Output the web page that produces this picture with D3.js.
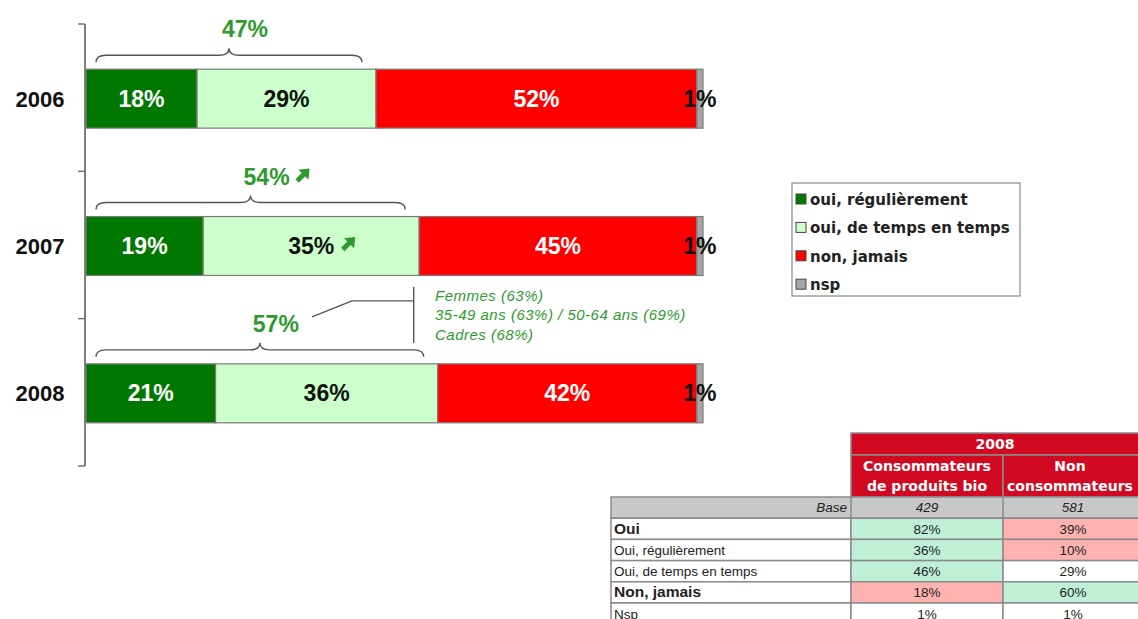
<!DOCTYPE html>
<html>
<head>
    <meta charset="utf-8">
    <script src="https://d3js.org/d3.v7.min.js"></script>
    <title>Consommation bio</title>
    <style>
        body { margin: 0; background: #fff; }
        svg { display: block; }
        .seg-label { font-family: "Liberation Sans", Arial, sans-serif; font-weight: bold; font-size: 23px; }
        .year { font-family: "Liberation Sans", Arial, sans-serif; font-weight: bold; font-size: 22px; }
        .legend text { font-family: "DejaVu Sans", Verdana, sans-serif; font-size: 15px; font-weight: bold; fill: #222; }
    </style>
</head>
<body>
    <svg id="chart" width="1138" height="619"></svg>
    <script>
        // data
        var years = ["2006", "2007", "2008"];
        var categories = ["oui, régulièrement", "oui, de temps en temps", "non, jamais", "nsp"];
        var regulierement = [18, 19, 21];
        var tempsEnTemps = [29, 35, 36];
        var jamais = [52, 45, 42];
        var nsp = [1, 1, 1];
        var ouiTotal = [47, 54, 57];
        var trendUp = [false, true, false];

        var notes = ["Femmes (63%)", "35-49 ans (63%) / 50-64 ans (69%)", "Cadres (68%)"];

        var tableCols = ["Consommateurs|de produits bio", "Non|consommateurs"];
        var tableBase = ["429", "581"];
        var tableRows = ["Oui", "Oui, régulièrement", "Oui, de temps en temps", "Non, jamais", "Nsp"];
        var tableBold = [true, false, false, true, false];
        var consoBio = ["82%", "36%", "46%", "18%", "1%"];
        var nonConso = ["39%", "10%", "29%", "60%", "1%"];
        var consoBioTone = ["up", "up", "up", "down", ""];
        var nonConsoTone = ["down", "down", "", "up", ""];

        var colors = ["#007800", "#ccffcc", "#ff0000", "#a6a6a6"];
        var labelColors = ["#fff", "#111", "#fff", "#111"];
        var green = "#2e9a2e";

        var svg = d3.select("#chart");

        var x = d3.scaleLinear().domain([0, 100]).range([86, 703]);
        var y = d3.scaleBand().domain(years).range([24, 466]).paddingInner(0.6).paddingOuter(0.3);

        // axis line with ticks at band boundaries
        var step = y.step();
        var g = svg.append("g");
        g.append("line").attr("x1", 85).attr("x2", 85).attr("y1", 24).attr("y2", 466)
            .attr("stroke", "#555").attr("stroke-width", 1.5);
        d3.range(years.length + 1).forEach(function (i) {
            var ty = 24 + i * step;
            g.append("line").attr("x1", 78).attr("x2", 85).attr("y1", ty).attr("y2", ty)
                .attr("stroke", "#777").attr("stroke-width", 1.5);
        });

        // year labels
        svg.selectAll(".year").data(years).enter().append("text")
            .attr("class", "year")
            .attr("x", 40)
            .attr("y", d => y(d) + y.bandwidth() / 2 + 9)
            .attr("text-anchor", "middle")
            .attr("fill", "#111")
            .text(d => d);

        // stacked rows
        var series = [regulierement, tempsEnTemps, jamais, nsp];
        var rows = years.map(function (yr, i) {
            var acc = 0;
            return series.map(function (s, k) {
                var seg = { year: yr, k: k, v: s[i], x0: acc, x1: acc + s[i] };
                acc += s[i];
                return seg;
            });
        });

        var rowG = svg.selectAll(".row").data(rows).enter().append("g").attr("class", "row");

        rowG.selectAll("rect").data(d => d).enter().append("rect")
            .attr("x", d => x(d.x0))
            .attr("y", d => y(d.year) + 1)
            .attr("width", d => x(d.x1) - x(d.x0))
            .attr("height", y.bandwidth())
            .attr("fill", d => colors[d.k])
            .attr("stroke", "#7a7a7a")
            .attr("stroke-width", 1.2);

        rowG.selectAll("text").data(d => d).enter().append("text")
            .attr("class", "seg-label")
            .attr("x", d => (x(d.x0) + x(d.x1)) / 2)
            .attr("y", d => y(d.year) + y.bandwidth() / 2 + 9)
            .attr("text-anchor", "middle")
            .attr("fill", d => labelColors[d.k])
            .text(d => d.v + "%");

        // braces above the "oui" part
        function brace(x1, x2, yb, h) {
            var xm = (x1 + x2) / 2, ym = yb - h / 2, q = 10;
            return "M" + x1 + "," + yb +
                "Q" + x1 + "," + ym + " " + (x1 + q) + "," + ym +
                "L" + (xm - q) + "," + ym +
                "Q" + xm + "," + ym + " " + xm + "," + (yb - h) +
                "Q" + xm + "," + ym + " " + (xm + q) + "," + ym +
                "L" + (x2 - q) + "," + ym +
                "Q" + x2 + "," + ym + " " + x2 + "," + yb;
        }

        function arrow(ax, ay, s) {
            var a = svg.append("g").attr("transform", "translate(" + ax + "," + ay + ") rotate(-45) scale(" + s + ")");
            a.append("path")
                .attr("d", "M-7,-2.2 L1,-2.2 L1,-6.5 L9,0 L1,6.5 L1,2.2 L-7,2.2 Z")
                .attr("fill", green);
        }

        years.forEach(function (yr, i) {
            var top = y(yr);
            var bx1 = x(0) + 10, bx2 = x(ouiTotal[i]) - 14;
            svg.append("path")
                .attr("d", brace(bx1, bx2, top - 6, 14))
                .attr("fill", "none")
                .attr("stroke", "#555")
                .attr("stroke-width", 1.4);
            var lx = (bx1 + bx2) / 2 + 16;
            svg.append("text")
                .attr("class", "seg-label")
                .attr("x", lx)
                .attr("y", top - 31)
                .attr("text-anchor", "middle")
                .attr("fill", green)
                .text(ouiTotal[i] + "%");
            if (trendUp[i]) {
                arrow(lx + 36, top - 40, 1.1);
                // arrow next to the "de temps en temps" value
                arrow(x(regulierement[i] + tempsEnTemps[i] / 2) + 37, top + y.bandwidth() / 2 - 1, 1.1);
            }
        });

        // annotation for 2008
        var aTop = y("2008");
        var vx = x(ouiTotal[2]) - 24;
        svg.append("line").attr("x1", vx).attr("x2", vx).attr("y1", aTop - 76).attr("y2", aTop - 20)
            .attr("stroke", "#555").attr("stroke-width", 1.4);
        svg.append("path")
            .attr("d", "M312," + (aTop - 46) + " L352," + (aTop - 62) + " L" + vx + "," + (aTop - 62))
            .attr("fill", "none").attr("stroke", "#555").attr("stroke-width", 1.4);
        svg.selectAll(".note").data(notes).enter().append("text")
            .attr("class", "note")
            .attr("x", 435)
            .attr("y", (d, i) => aTop - 62 + i * 19.5)
            .attr("fill", green)
            .attr("font-family", "Liberation Sans, Arial, sans-serif")
            .attr("font-style", "italic")
            .attr("font-size", 15)
            .attr("letter-spacing", 0.5)
            .text(d => d);

        // legend
        var lg = svg.append("g").attr("class", "legend");
        lg.append("rect").attr("x", 792).attr("y", 183).attr("width", 228).attr("height", 113)
            .attr("fill", "#fff").attr("stroke", "#888").attr("stroke-width", 1.2);
        var li = lg.selectAll(".li").data(categories).enter().append("g")
            .attr("transform", (d, i) => "translate(796," + (200 + i * 28.4) + ")");
        li.append("rect").attr("x", 0).attr("y", -6).attr("width", 10).attr("height", 10)
            .attr("fill", (d, i) => colors[i]).attr("stroke", "#444").attr("stroke-width", 1);
        li.append("text").attr("x", 14).attr("y", 5).text(d => d);

        // table
        var tb = svg.append("g").attr("class", "tbl")
            .attr("font-family", "Liberation Sans, Arial, sans-serif")
            .attr("font-size", 13.5);
        var cx = [611, 851, 1003, 1143];
        var red = "#d10a22";
        var rowH = 21.2;
        var baseY = 497;
        var tones = { up: "#bff0d7", down: "#ffb3b1", "": "#fff" };
        var line = "#8a8a8a";
        var headFont = "DejaVu Sans, Verdana, sans-serif";

        tb.append("rect").attr("x", cx[1]).attr("y", 433).attr("width", cx[3] - cx[1]).attr("height", 22)
            .attr("fill", red).attr("stroke", line).attr("stroke-width", 1.5);
        tb.append("text").attr("x", (cx[1] + cx[3]) / 2 - 2).attr("y", 449).attr("text-anchor", "middle")
            .attr("fill", "#fff").attr("font-weight", "bold").attr("font-family", headFont)
            .attr("font-size", 14).text("2008");
        tableCols.forEach(function (c, j) {
            tb.append("rect").attr("x", cx[j + 1]).attr("y", 455).attr("width", cx[j + 2] - cx[j + 1]).attr("height", 42)
                .attr("fill", red).attr("stroke", line).attr("stroke-width", 1.5);
            c.split("|").forEach(function (t, k) {
                tb.append("text").attr("x", (cx[j + 1] + cx[j + 2]) / 2 + (j == 1 ? -3 : 0)).attr("y", 471 + k * 20)
                    .attr("text-anchor", "middle").attr("fill", "#fff").attr("font-weight", "bold")
                    .attr("font-family", headFont).attr("font-size", 14).text(t);
            });
        });

        // base row
        tb.append("rect").attr("x", cx[0]).attr("y", baseY).attr("width", cx[3] - cx[0]).attr("height", rowH)
            .attr("fill", "#c8c8c8").attr("stroke", line).attr("stroke-width", 1.5);
        tb.append("text").attr("x", cx[1] - 4).attr("y", baseY + 15).attr("text-anchor", "end")
            .attr("font-style", "italic").attr("fill", "#222").text("Base");
        tableBase.forEach(function (b, j) {
            tb.append("line").attr("x1", cx[j + 1]).attr("x2", cx[j + 1]).attr("y1", baseY).attr("y2", baseY + rowH)
                .attr("stroke", line).attr("stroke-width", 1.5);
            tb.append("text").attr("x", (cx[j + 1] + cx[j + 2]) / 2).attr("y", baseY + 15).attr("text-anchor", "middle")
                .attr("font-style", "italic").attr("fill", "#222").text(b);
        });

        tableRows.forEach(function (r, i) {
            var ry = baseY + rowH * (i + 1);
            var vals = [consoBio[i], nonConso[i]];
            var tn = [consoBioTone[i], nonConsoTone[i]];
            tb.append("rect").attr("x", cx[0]).attr("y", ry).attr("width", cx[1] - cx[0]).attr("height", rowH)
                .attr("fill", "#fff").attr("stroke", line).attr("stroke-width", 1.5);
            tb.append("text").attr("x", cx[0] + 3).attr("y", ry + 15.5)
                .attr("font-weight", tableBold[i] ? "bold" : "normal")
                .attr("font-size", tableBold[i] ? 15.5 : 13.5)
                .attr("fill", "#222").text(r);
            vals.forEach(function (v, j) {
                tb.append("rect").attr("x", cx[j + 1]).attr("y", ry).attr("width", cx[j + 2] - cx[j + 1]).attr("height", rowH)
                    .attr("fill", tones[tn[j]]).attr("stroke", line).attr("stroke-width", 1.5);
                tb.append("text").attr("x", (cx[j + 1] + cx[j + 2]) / 2).attr("y", ry + 15.5).attr("text-anchor", "middle")
                    .attr("fill", "#222").text(v);
            });
        });
    </script>
</body>
</html>
